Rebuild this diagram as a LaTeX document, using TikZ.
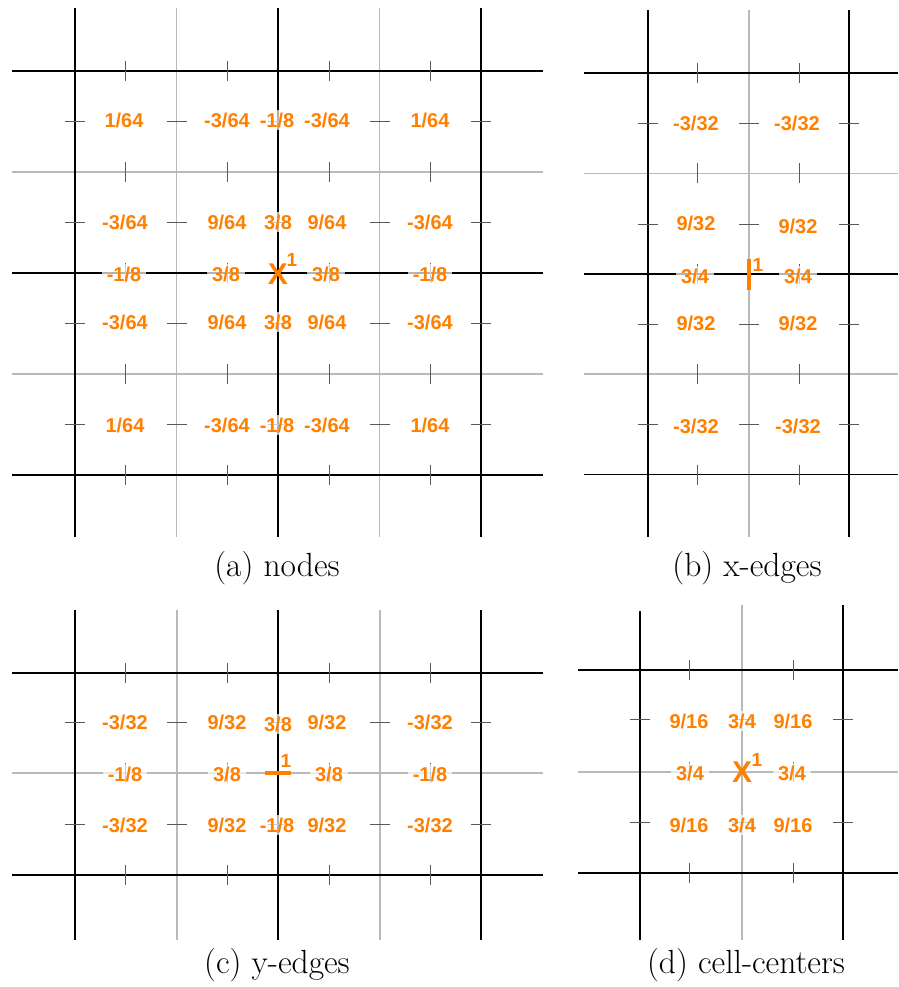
\documentclass[tikz,border=0pt]{standalone}
\usepackage{fontspec}
\usepackage{tikz}
\usepackage{xcolor}
\newfontfamily\wtfont{Liberation Sans}
\definecolor{wtorange}{RGB}{255,128,0}
\tikzset{
  major/.style={black, line width=1.6pt},
  minor/.style={gray!55, line width=1.6pt},
  tickmark/.style={gray!70!black, line width=0.8pt},
  wt/.style={text=wtorange, font=\wtfont\bfseries\fontsize{20}{20}\selectfont,
    fill=white, fill opacity=0.7, text opacity=1, inner xsep=5pt, inner ysep=3pt},
  cross/.style={text=wtorange, font=\wtfont\bfseries\fontsize{30}{30}\selectfont, inner sep=0pt},
  unit/.style={text=wtorange, font=\wtfont\bfseries\fontsize{19}{19}\selectfont, inner sep=0pt},
  bar/.style={wtorange, line width=3.5pt},
  caption/.style={font=\fontsize{33.5}{40}\selectfont, anchor=base}
}

\begin{document}
\begin{tikzpicture}[x=1pt,y=-1pt]
\useasboundingbox (0,0) rectangle (898,987);
% (a) nodes
\draw[minor] (176.5,8) -- (176.5,537);
\draw[minor] (379.5,8) -- (379.5,537);
\draw[minor] (12,172) -- (543,172);
\draw[minor] (12,374) -- (543,374);
\draw[major] (75,8) -- (75,537);
\draw[major] (278,8) -- (278,537);
\draw[major] (481,8) -- (481,537);
\draw[major] (12,71) -- (543,71);
\draw[major] (12,273) -- (543,273);
\draw[major] (12,475) -- (543,475);
\draw[tickmark] (125.5,61) -- (125.5,81) (227,61) -- (227,81) (329,61) -- (329,81) (430,61) -- (430,81);
\draw[tickmark] (125.5,162) -- (125.5,182) (227,162) -- (227,182) (329,162) -- (329,182) (430,162) -- (430,182);
\draw[tickmark] (125.5,263) -- (125.5,283) (227,263) -- (227,283) (329,263) -- (329,283) (430,263) -- (430,283);
\draw[tickmark] (125.5,364) -- (125.5,384) (227,364) -- (227,384) (329,364) -- (329,384) (430,364) -- (430,384);
\draw[tickmark] (125.5,465) -- (125.5,485) (227,465) -- (227,485) (329,465) -- (329,485) (430,465) -- (430,485);
\draw[tickmark] (65,121.5) -- (85,121.5) (166.5,121.5) -- (186.5,121.5) (268,121.5) -- (288,121.5) (369.5,121.5) -- (389.5,121.5) (471,121.5) -- (491,121.5);
\draw[tickmark] (65,222.5) -- (85,222.5) (166.5,222.5) -- (186.5,222.5) (268,222.5) -- (288,222.5) (369.5,222.5) -- (389.5,222.5) (471,222.5) -- (491,222.5);
\draw[tickmark] (65,323.5) -- (85,323.5) (166.5,323.5) -- (186.5,323.5) (268,323.5) -- (288,323.5) (369.5,323.5) -- (389.5,323.5) (471,323.5) -- (491,323.5);
\draw[tickmark] (65,424.5) -- (85,424.5) (166.5,424.5) -- (186.5,424.5) (268,424.5) -- (288,424.5) (369.5,424.5) -- (389.5,424.5) (471,424.5) -- (491,424.5);
\node[wt] (a11) at (124,120) {1/64};
\node[wt] (a12) at (227,120) {-3/64};
\node[wt] (a13) at (277,120) {-1/8};
\node[wt] (a14) at (327,120) {-3/64};
\node[wt] (a15) at (430,120) {1/64};
\node[wt] (a21) at (125,222) {-3/64};
\node[wt] (a22) at (227,222) {9/64};
\node[wt] (a23) at (278,222) {3/8};
\node[wt] (a24) at (327,222) {9/64};
\node[wt] (a25) at (430,222) {-3/64};
\node[wt] (a31) at (124,274) {-1/8};
\node[wt] (a32) at (226,274) {3/8};
\node[cross] (a33) at (278,274) {X};
\node[unit] (a33u) at (292,260) {1};
\node[wt] (a34) at (326,274) {3/8};
\node[wt] (a35) at (430,274) {-1/8};
\node[wt] (a41) at (125,322) {-3/64};
\node[wt] (a42) at (227,322) {9/64};
\node[wt] (a43) at (278,322) {3/8};
\node[wt] (a44) at (327,322) {9/64};
\node[wt] (a45) at (430,322) {-3/64};
\node[wt] (a51) at (125,425) {1/64};
\node[wt] (a52) at (227,425) {-3/64};
\node[wt] (a53) at (277,425) {-1/8};
\node[wt] (a54) at (327,425) {-3/64};
\node[wt] (a55) at (430,425) {1/64};
\node[caption] (capa) at (277,576) {(a) nodes};
% (b) x-edges
\draw[minor] (749,10) -- (749,537);
\draw[minor] (584,173.5) -- (898,173.5);
\draw[minor] (584,374) -- (898,374);
\draw[major] (648,10) -- (648,537);
\draw[major] (849,10) -- (849,537);
\draw[major] (584,73) -- (898,73);
\draw[major] (584,274) -- (898,274);
\draw[major] (584,474.5) -- (898,474.5);
\draw[tickmark] (697,63) -- (697,83) (799,63) -- (799,83);
\draw[tickmark] (697,163.5) -- (697,183.5) (799,163.5) -- (799,183.5);
\draw[tickmark] (697,264) -- (697,284) (799,264) -- (799,284);
\draw[tickmark] (697,364) -- (697,384) (799,364) -- (799,384);
\draw[tickmark] (697,464.5) -- (697,484.5) (799,464.5) -- (799,484.5);
\draw[tickmark] (638,123) -- (658,123) (739,123) -- (759,123) (839,123) -- (859,123);
\draw[tickmark] (638,224) -- (658,224) (739,224) -- (759,224) (839,224) -- (859,224);
\draw[tickmark] (638,324) -- (658,324) (739,324) -- (759,324) (839,324) -- (859,324);
\draw[tickmark] (638,424) -- (658,424) (739,424) -- (759,424) (839,424) -- (859,424);
\node[wt] (b11) at (696,123) {-3/32};
\node[wt] (b12) at (797,123) {-3/32};
\node[wt] (b21) at (696,223) {9/32};
\node[wt] (b22) at (798,226) {9/32};
\node[wt] (b31) at (695,276) {3/4};
\node[wt] (b32) at (798,276) {3/4};
\node[wt] (b41) at (696,323) {9/32};
\node[wt] (b42) at (798,323) {9/32};
\node[wt] (b51) at (696,426) {-3/32};
\node[wt] (b52) at (798,426) {-3/32};
\draw[bar] (749,259) -- (749,290);
\node[unit] (b3u) at (758,265) {1};
\node[caption] (capb) at (747,576) {(b) x-edges};
% (c) y-edges
\draw[minor] (177,610) -- (177,940);
\draw[minor] (380,610) -- (380,940);
\draw[minor] (12,773) -- (543,773);
\draw[major] (75,610) -- (75,940);
\draw[major] (278,610) -- (278,940);
\draw[major] (481,610) -- (481,940);
\draw[major] (12,673) -- (543,673);
\draw[major] (12,875) -- (543,875);
\draw[tickmark] (125.5,663) -- (125.5,683) (227,663) -- (227,683) (329,663) -- (329,683) (430,663) -- (430,683);
\draw[tickmark] (125.5,763) -- (125.5,783) (227,763) -- (227,783) (329,763) -- (329,783) (430,763) -- (430,783);
\draw[tickmark] (125.5,865) -- (125.5,885) (227,865) -- (227,885) (329,865) -- (329,885) (430,865) -- (430,885);
\draw[tickmark] (65,722) -- (85,722) (167,722) -- (187,722) (268,722) -- (288,722) (370,722) -- (390,722) (471,722) -- (491,722);
\draw[tickmark] (65,824) -- (85,824) (167,824) -- (187,824) (268,824) -- (288,824) (370,824) -- (390,824) (471,824) -- (491,824);
\node[wt] (c11) at (125,722) {-3/32};
\node[wt] (c12) at (227,722) {9/32};
\node[wt] (c13) at (278,724) {3/8};
\node[wt] (c14) at (327,722) {9/32};
\node[wt] (c15) at (430,722) {-3/32};
\node[wt] (c21) at (125,774) {-1/8};
\node[wt] (c22) at (227,774) {3/8};
\node[wt] (c24) at (329,774) {3/8};
\node[wt] (c25) at (430,774) {-1/8};
\node[wt] (c31) at (125,825) {-3/32};
\node[wt] (c32) at (227,825) {9/32};
\node[wt] (c33) at (277,825) {-1/8};
\node[wt] (c34) at (327,825) {9/32};
\node[wt] (c35) at (430,825) {-3/32};
\draw[bar] (265,773) -- (291,773);
\node[unit] (c2u) at (286,761) {1};
\node[caption] (capc) at (277,973) {(c) y-edges};
% (d) cell-centers
\draw[minor] (742,605) -- (742,940);
\draw[minor] (578,772) -- (898,772);
\draw[major] (640,611) -- (640,940);
\draw[major] (843,605) -- (843,940);
\draw[major] (578,670) -- (898,670);
\draw[major] (578,873) -- (898,873);
\draw[tickmark] (689.5,660) -- (689.5,680) (793,660) -- (793,680);
\draw[tickmark] (689.5,762) -- (689.5,782) (793,762) -- (793,782);
\draw[tickmark] (689.5,863) -- (689.5,883) (793,863) -- (793,883);
\draw[tickmark] (630,719) -- (650,719) (732,719) -- (752,719) (833,719) -- (853,719);
\draw[tickmark] (630,822) -- (650,822) (732,822) -- (752,822) (833,822) -- (853,822);
\node[wt] (d11) at (689,721) {9/16};
\node[wt] (d12) at (742,721) {3/4};
\node[wt] (d13) at (793,721) {9/16};
\node[wt] (d21) at (690,773) {3/4};
\node[cross] (d22) at (742,772) {X};
\node[unit] (d22u) at (757,760) {1};
\node[wt] (d23) at (792,773) {3/4};
\node[wt] (d31) at (689,825) {9/16};
\node[wt] (d32) at (742,825) {3/4};
\node[wt] (d33) at (793,825) {9/16};
\node[caption] (capd) at (746,973) {(d) cell-centers};
\end{tikzpicture}
\end{document}
